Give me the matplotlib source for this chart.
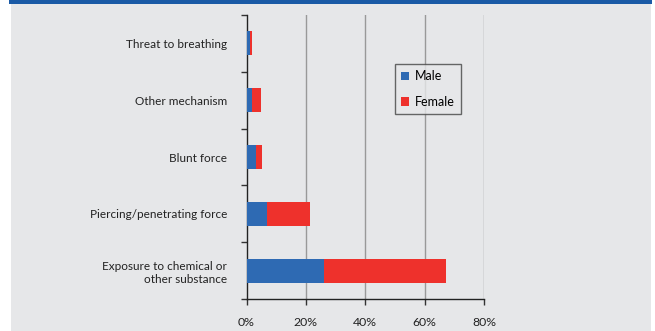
import matplotlib
matplotlib.use('Agg')
import matplotlib.pyplot as plt
from matplotlib.patches import Rectangle

# Share of injuries by mechanism, split by sex (percent)
categories = ['Exposure to chemical or\nother substance', 'Piercing/penetrating force',
              'Blunt force', 'Other mechanism', 'Threat to breathing']
male = [26.1, 6.9, 3.2, 1.9, 1.1]
female = [41.1, 14.5, 2.0, 3.0, 0.8]
xticks = [0, 20, 40, 60, 80]

BLUE = '#2e6ab3'
RED = '#ee312c'
BG = '#e6e7e9'
plt.rcParams['font.family'] = ['Lato', 'DejaVu Sans']

fig = plt.figure(figsize=(6.55, 3.31), dpi=100)
# grey panel and blue top band
fig.patches.append(Rectangle((11/655, 0), 640/655, 1, transform=fig.transFigure,
                             facecolor=BG, edgecolor='none', zorder=-2))
fig.patches.append(Rectangle((9/655, 1 - 4/331), 643/655, 4/331, transform=fig.transFigure,
                             facecolor='#1a5aa6', edgecolor='none', zorder=-1))

ax = fig.add_axes([246.5/655, 1 - 299/331, (484 - 246.5)/655, (299 - 15)/331])
ax.set_facecolor('none')
ax.set_zorder(1)

ypos = range(len(categories))
ax.barh(ypos, male, height=0.42, color=BLUE, label='Male', zorder=3)
ax.barh(ypos, female, left=male, height=0.42, color=RED, label='Female', zorder=3)

ax.set_xlim(0, 80)
ax.set_ylim(-0.5, len(categories) - 0.5)
ax.set_xticks(xticks)
ax.set_xticklabels([f'{v}%' for v in xticks], fontsize=8.8, color='#222222')
ax.set_yticks([i - 0.5 for i in range(len(categories) + 1)], minor=False)
ax.set_yticklabels([])
ax.set_yticks(list(ypos), minor=True)
ax.set_yticklabels(categories, minor=True, fontsize=8.5, color='#222222', ha='right',
                   linespacing=1.25)
ax.tick_params(axis='y', which='minor', length=0, pad=14)
ax.tick_params(axis='y', which='major', length=4, width=1, color='#333333')
ax.tick_params(axis='x', length=4, width=1, color='#333333', pad=9)

for v in xticks[1:]:
    ax.axvline(v, color='#999999', lw=1, zorder=1)

for s in ['top', 'right']:
    ax.spines[s].set_visible(False)
for s in ['left', 'bottom']:
    ax.spines[s].set_color('#222222')
    ax.spines[s].set_linewidth(1)

leg = ax.legend(loc='upper left', bbox_to_anchor=((395 - 246.5) / (484 - 246.5), 1 - (64 - 15) / 284),
                frameon=True, fancybox=False, fontsize=9, handlelength=0.65, handleheight=0.65,
                handletextpad=0.45, labelspacing=1.1, borderpad=0.5, borderaxespad=0)
leg.get_frame().set_facecolor(BG)
leg.get_frame().set_edgecolor('#444444')
leg.get_frame().set_linewidth(1)

fig.savefig('out.png', dpi=100, facecolor='white')
